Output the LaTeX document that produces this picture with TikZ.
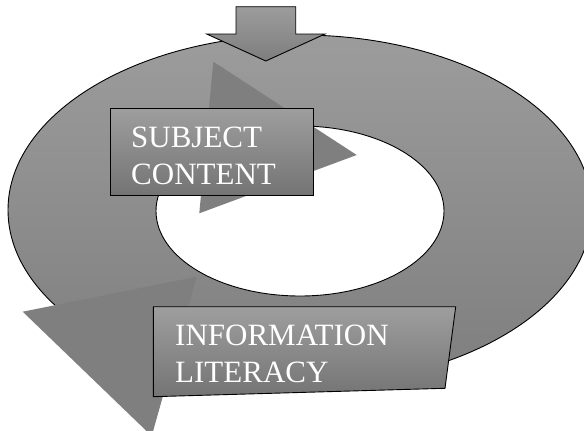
\documentclass[tikz,border=0pt]{standalone}
\usepackage{fontspec}
\setmainfont{Liberation Serif}
\usepackage{tikz}
\definecolor{ringtop}{HTML}{9C9C9C}
\definecolor{ringbot}{HTML}{7E7E7E}
\definecolor{boxtop}{HTML}{9E9E9E}
\definecolor{boxbot}{HTML}{747474}
\definecolor{headgray}{HTML}{7F7F7F}

\begin{document}
\begin{tikzpicture}[
  x=1pt, y=-1pt,
  outline/.style={draw=black, line width=0.9pt},
  ring/.style={outline, top color=ringtop, bottom color=ringbot},
  labelbox/.style={outline, top color=boxtop, bottom color=boxbot},
  head/.style={fill=headgray},
  label/.style={text=white, inner sep=0pt, anchor=north west, align=left,
    font=\fontsize{31}{37}\selectfont}
]
\useasboundingbox (0,0) rectangle (584,431);

% the cycle band with its hole
\shadedraw[ring] (300,210) ellipse [x radius=292pt, y radius=175pt];
\filldraw[outline, fill=white] (300,211) ellipse [x radius=144pt, y radius=85pt];

% arrow coming in from above
\shadedraw[ring] (236,6.7) -- (295.7,6.7) -- (295.7,34) -- (325,34)
  -- (265.8,61) -- (206.7,34) -- (236,34) -- cycle;

% arrow heads of the cycle
\fill[head] (213.3,61.7) -- (356.7,155) -- (199.3,213.3) -- cycle;
\fill[head] (22.7,311.7) -- (196.7,276.7) -- (151.7,436) -- cycle;

% boxes
\shadedraw[labelbox] (110.7,108.3) rectangle (313.3,195);
\shadedraw[labelbox] (153.3,306.7) -- (455.7,306.7) -- (445,388.3)
  -- (153.3,396.7) -- cycle;

\node[label] (subject) at (131,126.7) {SUBJECT\\CONTENT};
\node[label] (infolit) at (175,325) {INFORMATION\\LITERACY};
\end{tikzpicture}
\end{document}
